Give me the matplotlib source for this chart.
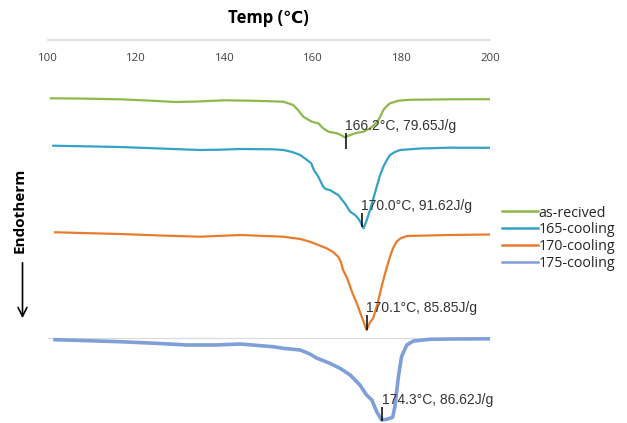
import matplotlib
matplotlib.use("Agg")
import matplotlib.pyplot as plt

# ---------------- data ----------------
temp_asrec = [100.8, 108, 116.4, 123, 129, 134, 139.9, 145.8, 150, 153.3, 155.5, 156.6, 157.8,
              159.7, 161.2, 162.3, 163.5, 165.4, 166.3, 167.2, 168.4, 169.7, 171.4, 172.9, 173.8,
              174.8, 175.9, 176.7, 177.4, 179.3, 181.9, 191.0, 200]
hf_asrec = [-5.83, -5.86, -5.93, -6.06, -6.20, -6.15, -6.03, -6.07, -6.12, -6.17, -6.50, -7.00, -7.67,
            -8.17, -8.33, -8.83, -9.17, -9.33, -9.50, -9.73, -9.50, -9.30, -9.17, -8.83, -8.50,
            -8.00, -7.00, -6.60, -6.33, -6.07, -5.98, -5.93, -5.92]

temp_165 = [101.3, 116.4, 125.4, 134.5, 139.0, 143.5, 151.0, 153.3, 155.3, 157.1, 158.2, 159.6,
            160.2, 161.2, 162.3, 162.9, 163.8, 165.7, 167.2, 168.4, 169.5, 170.2, 170.6, 171.4,
            172.0, 172.9, 174.4, 175.1, 175.9, 176.7, 177.4, 178.5, 179.7, 184.2, 191.0, 200.0]
hf_165 = [-10.57, -10.70, -10.85, -11.00, -10.97, -10.90, -10.93, -11.00, -11.20, -11.50, -11.85,
          -12.33, -13.00, -13.67, -14.67, -14.90, -15.00, -15.50, -16.33, -17.17, -17.50, -17.83,
          -18.10, -18.83, -18.20, -17.00, -14.67, -13.60, -12.67, -12.00, -11.50, -11.20, -11.00,
          -10.85, -10.77, -10.78]

temp_170 = [101.7, 116.4, 125.4, 134.5, 143.5, 153.3, 157.1, 159.3, 163.1, 164.5, 165.7, 166.3,
            166.8, 167.7, 168.4, 169.0, 169.9, 171.0, 172.1, 172.9, 173.6, 174.5, 175.5, 176.5,
            177.4, 178.1, 178.9, 179.7, 181.2, 191.0, 200]
hf_170 = [-19.23, -19.40, -19.55, -19.67, -19.50, -19.67, -19.90, -20.17, -20.83, -21.20, -21.67,
          -22.20, -23.00, -23.80, -24.67, -25.40, -26.33, -27.67, -29.00, -28.20, -27.83, -26.50,
          -24.67, -23.00, -21.67, -20.80, -20.17, -19.85, -19.60, -19.50, -19.45]

temp_175 = [101.7, 116.4, 125.4, 131.5, 137.9, 143.5, 151.0, 153.3, 157.1, 159.3, 160.8, 163.8,
            166.1, 168.4, 170.6, 172.1, 173.3, 174.4, 175.5, 176.7, 178.0, 178.5, 179.3, 180.0,
            181.2, 182.7, 186.4, 191.0, 200]
hf_175 = [-29.97, -30.17, -30.35, -30.50, -30.50, -30.40, -30.67, -30.83, -31.00, -31.40, -31.80,
          -32.33, -32.83, -33.50, -34.50, -35.50, -36.00, -37.17, -38.00, -37.93, -37.73, -36.67,
          -33.67, -31.67, -30.50, -30.10, -29.93, -29.90, -29.88]

series_labels = ["as-recived", "165-cooling", "170-cooling", "175-cooling"]
x_ticks = [100, 120, 140, 160, 180, 200]

peak_labels = ["166.2°C, 79.65J/g", "170.0°C, 91.62J/g", "170.1°C, 85.85J/g", "174.3°C, 86.62J/g"]
peak_marker_temp = [167.5, 171.1, 172.2, 175.7]
peak_marker_top = [-9.3, -17.27, -27.5, -36.73]
peak_marker_bottom = [-10.9, -18.7, -29.0, -38.07]

# ---------------- styling ----------------
colors = ["#8DB84A", "#34A2C6", "#E97C2C", "#7F9FD8"]
widths = [1.6, 1.6, 1.6, 2.6]

W, H = 627, 423
fig = plt.figure(figsize=(W / 100, H / 100), dpi=100)
ax = fig.add_axes([47.5 / W, 0, 442.5 / W, 1 - 40 / H])
ax.set_xlim(100, 200)
ax.set_ylim(-38.3, 0)

ax.axhline(-29.8, color="#d9d9d9", lw=0.8, zorder=1)

series = [(temp_asrec, hf_asrec), (temp_165, hf_165), (temp_170, hf_170), (temp_175, hf_175)]
lines = []
for (t, h), c, lw, lab in zip(series, colors, widths, series_labels):
    ln, = ax.plot(t, h, color=c, lw=lw, label=lab, zorder=3, solid_joinstyle="round")
    lines.append(ln)

for t, top, bot, txt in zip(peak_marker_temp, peak_marker_top, peak_marker_bottom, peak_labels):
    ax.vlines(t, bot, top, color="black", lw=1.1, zorder=4)
    ax.text(t - 0.2, top, txt, ha="left", va="bottom", fontsize=10,
            family=["Liberation Sans", "DejaVu Sans"], color="#333333", zorder=5)

# spines / axis
for s in ["left", "right", "bottom"]:
    ax.spines[s].set_visible(False)
ax.spines["top"].set_color("#d9d9d9")
ax.spines["top"].set_linewidth(1.2)
ax.set_yticks([])
ax.set_xticks(x_ticks)
ax.xaxis.set_ticks_position("top")
ax.tick_params(axis="x", top=True, bottom=False, labeltop=True, labelbottom=False,
               length=0, pad=-17, labelsize=8.2, labelcolor="#404040")
for lbl in ax.get_xticklabels():
    lbl.set_family(["Open Sans", "DejaVu Sans"])

ax.annotate("Temp (℃)", xy=(0.5, 1), xycoords="axes fraction", xytext=(0, 16),
            textcoords="offset points", ha="center", va="center", fontsize=12,
            fontweight="bold", family=["Open Sans", "DejaVu Sans"], annotation_clip=False)

fig.text(20 / W, 1 - 210 / H, "Endotherm", rotation=90, ha="center", va="center",
         fontsize=11, fontweight="bold", family=["Open Sans", "DejaVu Sans"])
fig.add_artist(matplotlib.patches.FancyArrowPatch(
    (22.5 / W, 1 - 260 / H), (22.5 / W, 1 - 321 / H), transform=fig.transFigure,
    arrowstyle="->", mutation_scale=16, lw=1.2, color="black"))

leg = fig.legend(handles=lines, loc="upper left",
                 bbox_to_anchor=(501.7 / W, 1 - 205.5 / H), frameon=False,
                 borderpad=0, borderaxespad=0, handlelength=2.52, handletextpad=0.05,
                 labelspacing=0.12, prop={"family": ["Open Sans", "DejaVu Sans"], "size": 10.3})
for t in leg.get_texts():
    t.set_color("#262626")
for hl in leg.get_lines():
    hl.set_linewidth(1.8)

fig.savefig("out.png", dpi=100)
